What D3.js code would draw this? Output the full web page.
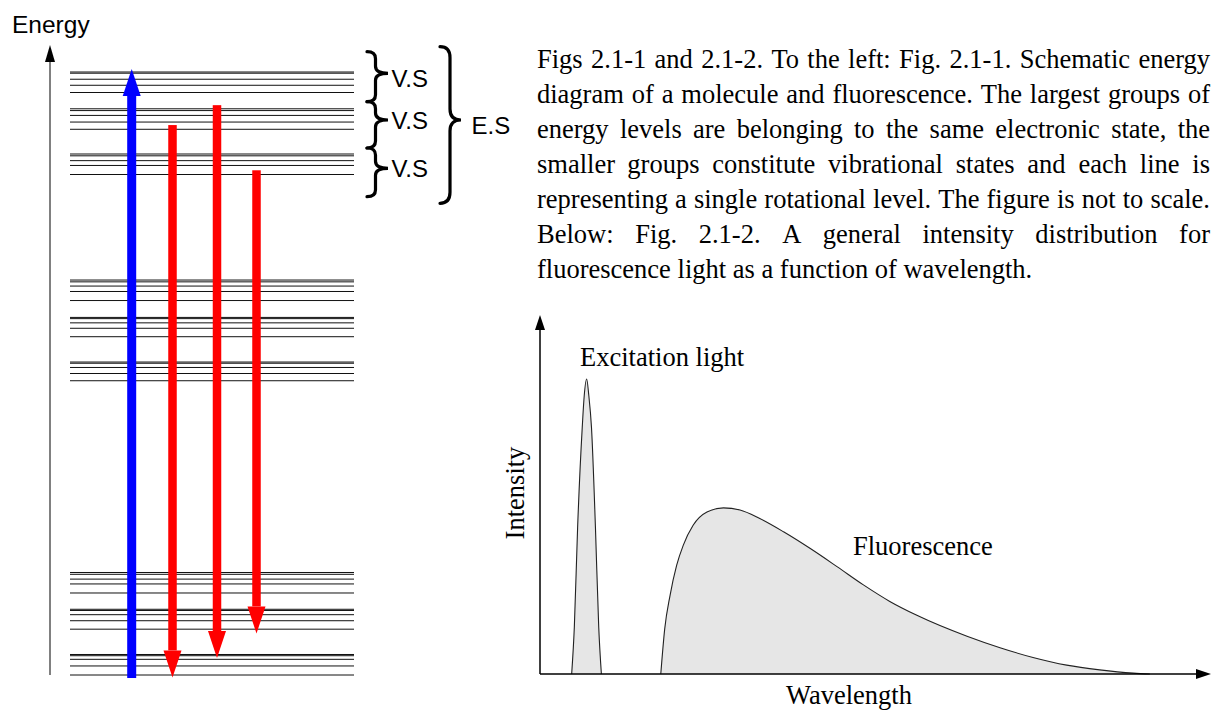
<!DOCTYPE html>
<html><head><meta charset="utf-8">
<script src="https://cdn.jsdelivr.net/npm/d3@7"></script>
<style>body{margin:0;background:#fff}svg{display:block}</style></head>
<body><svg id="c" width="1211" height="711"></svg>
<script>
// ---- Data ----
// Rotational levels (energy units, 0 = lowest level, 100 = highest level)
const levelsUpper = [100, 99.8, 98.8, 97.8, 96.6, 93.9, 93.6, 92.8, 91.7, 90.5, 86.4, 86.1, 85.3, 84.5, 83.0];
const levelsMiddle = [65.5, 65.2, 64.5, 63.6, 62.1, 59.3, 59.1, 58.4, 57.5, 56.1, 51.9, 51.7, 51.0, 50.0, 48.8];
const levelsLower = [17.0, 16.7, 15.9, 15.1, 13.6, 10.9, 10.7, 10.0, 9.0, 7.6, 3.4, 3.2, 2.6, 1.5, 0];
const absorptionFrom = [-0.5];
const absorptionTo = [100.5];
const emissionFrom = [91.2, 94.5, 83.7];
const emissionTo = [-0.4, 2.8, 6.9];
const braceLabels = ["V.S", "V.S", "V.S"];
const groupLabel = "E.S";
// Spectrum: [wavelength, intensity] (arbitrary units)
const excitation = [[4.8,0],[5.2,15.8],[5.7,49.7],[6.4,83.6],[6.7,94.3],[7.07,100],[7.4,94.3],[7.8,83.6],[8.4,49.7],[8.9,15.8],[9.3,0]];
const fluorescence = [[18.3,0],[18.9,15.4],[19.7,26.6],[20.7,36.8],[21.7,43.6],[23.2,50.4],[25.3,54.9],[27.8,56.3],[30.3,55.6],[33.3,52.7],[36.9,48.2],[40.9,42.6],[45.0,36.4],[49.0,30.2],[53.0,24.6],[57.1,19.9],[64.7,12.8],[69.7,8.9],[74.7,5.6],[79.8,3.0],[84.8,1.4],[89.9,0.3],[92.4,0]];
const captionLines = [
  "Figs 2.1-1 and 2.1-2. To the left: Fig. 2.1-1. Schematic energy",
  "diagram of a molecule and fluorescence. The largest groups of",
  "energy levels are belonging to the same electronic state, the",
  "smaller groups constitute vibrational states and each line is",
  "representing a single rotational level. The figure is not to scale.",
  "Below: Fig. 2.1-2. A general intensity distribution for",
  "fluorescence light as a function of wavelength."
];

const svg = d3.select("#c");
const sans = "'Liberation Sans', Arial, sans-serif";
const serif = "'Liberation Serif', 'Times New Roman', serif";

// ---- Energy diagram ----
const yE = d3.scaleLinear().domain([0, 100]).range([675, 72]);
const allLevels = levelsUpper.concat(levelsMiddle, levelsLower);
svg.append("g").selectAll("line").data(allLevels).join("line")
  .attr("x1", 70).attr("x2", 354)
  .attr("y1", d => yE(d)).attr("y2", d => yE(d))
  .attr("stroke", "#111").attr("stroke-width", 1);

// energy axis
svg.append("line").attr("x1", 50).attr("x2", 50).attr("y1", 60).attr("y2", 675)
  .attr("stroke", "#808080").attr("stroke-width", 2);
svg.append("path").attr("d", "M50,45 L55,62 L45,62 Z").attr("fill", "#000");
svg.append("text").attr("x", 12).attr("y", 33).attr("font-family", sans)
  .attr("font-size", 24.5).attr("fill", "#000").text("Energy");

function vArrow(x, yStart, yTip, shaftW, headW, headL, color) {
  const dir = yTip < yStart ? 1 : -1; // 1 = pointing up
  const base = yTip + dir * headL;
  const g = svg.append("g");
  g.append("rect").attr("x", x - shaftW / 2).attr("width", shaftW)
    .attr("y", Math.min(yStart, base)).attr("height", Math.abs(yStart - base))
    .attr("fill", color);
  g.append("path").attr("d", `M${x},${yTip} L${x + headW / 2},${base} L${x - headW / 2},${base} Z`)
    .attr("fill", color);
}
const absX = [131.7];
absorptionFrom.forEach((f, i) => vArrow(absX[i], yE(f), yE(absorptionTo[i]), 9, 18, 27, "#0000ff"));
const emX = [172.5, 217, 256.5];
emissionFrom.forEach((f, i) => vArrow(emX[i], yE(f), yE(emissionTo[i]), 8.5, 18, 27, "#ff0000"));

// braces
function brace(x0, x1, x2, y1, y2, ym, r) {
  return `M${x0},${y1} Q${x1},${y1} ${x1},${y1 + r} L${x1},${ym - r} Q${x1},${ym} ${x2},${ym}` +
    ` Q${x1},${ym} ${x1},${ym + r} L${x1},${y2 - r} Q${x1},${y2} ${x0},${y2}`;
}
const small = [[51.7, 101.7, 73.3], [101.7, 148, 120], [148, 196.7, 168.3]];
const vsBase = [87, 129, 177];
small.forEach((b, i) => {
  svg.append("path").attr("d", brace(367, 375.5, 388, b[0], b[1], b[2], 7))
    .attr("fill", "none").attr("stroke", "#000").attr("stroke-width", 3.2).attr("stroke-linecap", "round");
  svg.append("text").attr("x", 391.5).attr("y", vsBase[i]).attr("font-family", sans)
    .attr("font-size", 24).text(braceLabels[i]);
});
svg.append("path").attr("d", brace(440, 450, 461, 46.7, 203.3, 120, 11))
  .attr("fill", "none").attr("stroke", "#000").attr("stroke-width", 3.2).attr("stroke-linecap", "round");
svg.append("text").attr("x", 471.5).attr("y", 134).attr("font-family", sans)
  .attr("font-size", 24).text(groupLabel);

// ---- Caption (justified) ----
const capX = 537, capW = 673, capFS = 26.5;
captionLines.forEach((line, i) => {
  const yb = 68 + 35 * i;
  const words = line.split(" ");
  const t = svg.append("text").attr("y", yb).attr("font-family", serif).attr("font-size", capFS).attr("fill", "#000");
  const spans = words.map(w => t.append("tspan").text(w));
  const widths = spans.map(s => s.node().getComputedTextLength());
  const total = d3.sum(widths);
  const last = i === captionLines.length - 1;
  const spaceW = last ? capFS * 0.25 : (capW - total) / (words.length - 1);
  let x = capX;
  spans.forEach((s, k) => { s.attr("x", x); x += widths[k] + spaceW; });
});

// ---- Spectrum ----
const x = d3.scaleLinear().domain([0, 100]).range([540, 1200]);
const y = d3.scaleLinear().domain([0, 100]).range([674, 379]);
const area = d3.area().x(d => x(d[0])).y0(y(0)).y1(d => y(d[1])).curve(d3.curveMonotoneX);
const line = d3.line().x(d => x(d[0])).y(d => y(d[1])).curve(d3.curveMonotoneX);
[excitation, fluorescence].forEach(s => {
  svg.append("path").attr("d", area(s)).attr("fill", "#e6e6e6");
  svg.append("path").attr("d", line(s)).attr("fill", "none").attr("stroke", "#222").attr("stroke-width", 1.1);
});
// axes
svg.append("line").attr("x1", x(0)).attr("x2", x(0)).attr("y1", y(0)).attr("y2", 328)
  .attr("stroke", "#000").attr("stroke-width", 1.5);
svg.append("path").attr("d", `M${x(0)},315 L${x(0) + 5},330 L${x(0) - 5},330 Z`).attr("fill", "#000");
svg.append("line").attr("x1", x(0)).attr("x2", 1200).attr("y1", y(0)).attr("y2", y(0))
  .attr("stroke", "#000").attr("stroke-width", 1.5);
svg.append("path").attr("d", `M1211,${y(0)} L1196,${y(0) - 5} L1196,${y(0) + 5} Z`).attr("fill", "#000");

svg.append("text").attr("x", 580).attr("y", 366).attr("font-family", serif).attr("font-size", 26.5).text("Excitation light");
svg.append("text").attr("x", 853).attr("y", 555).attr("font-family", serif).attr("font-size", 26.5).text("Fluorescence");
svg.append("text").attr("x", 849).attr("y", 704).attr("text-anchor", "middle").attr("font-family", serif).attr("font-size", 26.5).text("Wavelength");
svg.append("text").attr("transform", "translate(524,493) rotate(-90)").attr("text-anchor", "middle")
  .attr("font-family", serif).attr("font-size", 26.5).text("Intensity");
</script></body></html>
